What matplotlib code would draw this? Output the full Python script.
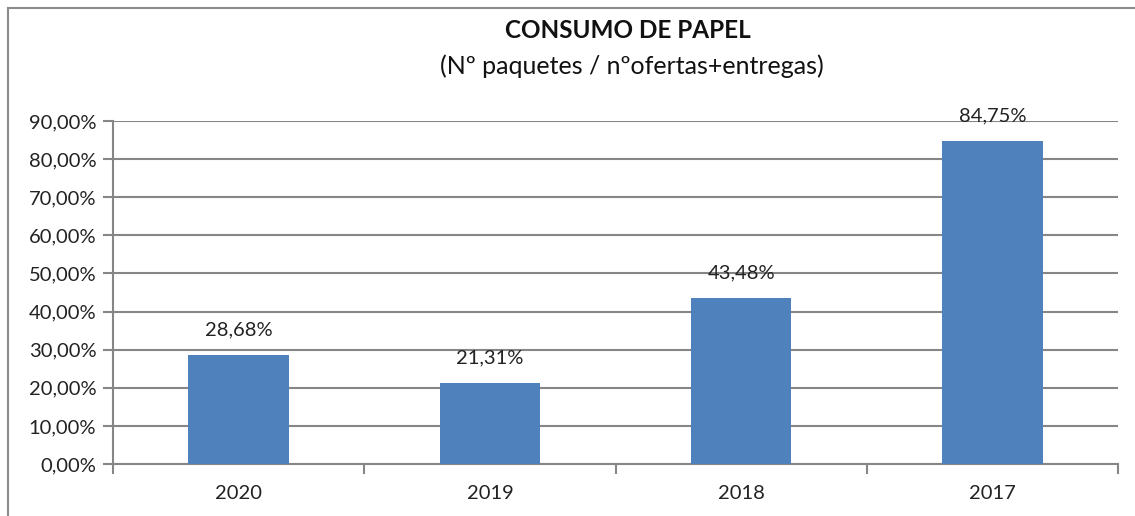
import matplotlib.pyplot as plt
from matplotlib.lines import Line2D
import numpy as np

# Dados do gráfico
anos = ['2020', '2019', '2018', '2017']
consumo = [28.68, 21.31, 43.48, 84.75]
y_ticks = [0, 10, 20, 30, 40, 50, 60, 70, 80, 90]

plt.rcParams['font.family'] = ['Lato', 'DejaVu Sans']

W, H = 1135, 516
fig = plt.figure(figsize=(W / 100, H / 100), dpi=100)

# Moldura (só esquerda e topo visíveis)
cor_moldura = '#8c8c8c'
fig.add_artist(Line2D([8 / W, 8 / W], [0, 1 - 8 / H], transform=fig.transFigure, color=cor_moldura, lw=1.5))
fig.add_artist(Line2D([8 / W, 1], [1 - 8 / H, 1 - 8 / H], transform=fig.transFigure, color=cor_moldura, lw=1.5))

ax = fig.add_axes([113 / W, (H - 464) / H, (1118 - 113) / W, (464 - 121) / H])

x = np.arange(len(anos))
barras = ax.bar(x, consumo, width=0.4, color='#4f81bd', zorder=3)

cinza = '#868686'
fs = 14.5
ax.set_ylim(0, 90)
ax.set_xlim(-0.5, len(anos) - 0.5)
ax.set_yticks(y_ticks)
ax.set_yticklabels([f"{v:.2f}".replace('.', ',') + '%' for v in y_ticks], fontsize=fs, color='#222222')
ax.set_xticks(x)
ax.set_xticklabels(anos, fontsize=fs, color='#222222')
ax.set_xticks(np.arange(-0.5, len(anos)), minor=True)
ax.tick_params(axis='x', which='major', length=0, pad=15)
ax.tick_params(axis='x', which='minor', length=7, color=cinza, width=1.5)
ax.tick_params(axis='y', length=7, color=cinza, width=1.5, pad=5)
ax.grid(axis='y', color=cinza, lw=1.5, zorder=0)

for s in ['top', 'right']:
    ax.spines[s].set_visible(False)
for s in ['left', 'bottom']:
    ax.spines[s].set_color(cinza)
    ax.spines[s].set_linewidth(1.5)

# Rótulos dos valores
for xi, v in zip(x, consumo):
    ax.annotate(f"{v:.2f}".replace('.', ',') + '%', (xi, v), xytext=(0, 18), textcoords='offset points',
                ha='center', va='center', fontsize=fs, color='#222222')

fig.text(628 / W, 1 - 30 / H, 'CONSUMO DE PAPEL', ha='center', va='center',
         fontsize=17.5, fontweight='bold', color='#111111')
fig.text(632 / W, 1 - 66 / H, '(Nº paquetes / nºofertas+entregas)', ha='center', va='center',
         fontsize=18, color='#111111')

plt.savefig('out.png', dpi=100)
